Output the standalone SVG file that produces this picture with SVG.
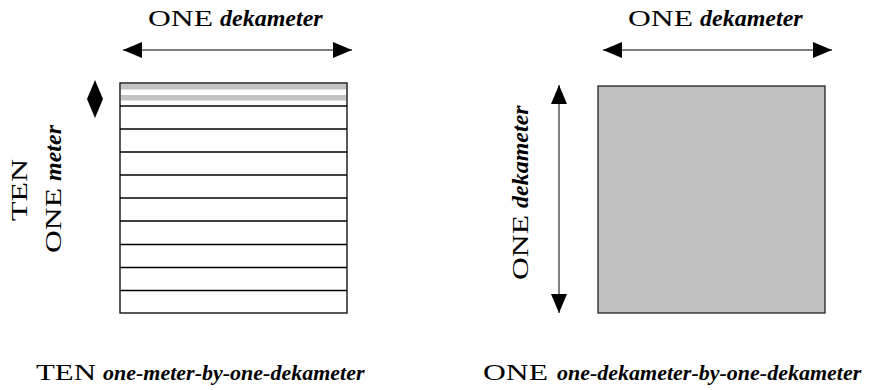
<svg xmlns="http://www.w3.org/2000/svg" width="895" height="390" viewBox="0 0 895 390">
  <style>
    text { font-family: "Liberation Serif", "Times New Roman", serif; font-size: 24px; fill: #000; }
    .em { font-style: italic; font-weight: bold; }
    .sub { font-size: 22px; }
    .dim { stroke: #000; stroke-width: 1.2; fill: none; marker-start: url(#head); marker-end: url(#head); }
    .dim-grey { stroke: #555; stroke-width: 1.5; fill: none; marker-start: url(#head); marker-end: url(#head); }
    .strip { fill: #fff; stroke: #000; stroke-width: 1.3; }
    .band { fill: #c3c3c3; }
  </style>
  <defs>
    <marker id="head" viewBox="0 0 19 16" refX="19" refY="8" markerWidth="19" markerHeight="16" markerUnits="userSpaceOnUse" orient="auto-start-reverse">
      <path d="M0,0 L19,8 L0,16 Z" fill="#000"/>
    </marker>
  </defs>

  <!-- dimension arrows -->
  <g id="connectors">
    <line class="dim" x1="123" y1="50" x2="352" y2="50"/>
    <line class="dim" x1="603" y1="50" x2="832" y2="50"/>
    <line class="dim-grey" x1="559" y1="85" x2="559" y2="313"/>
    <polygon points="95,80 103,99 95,118 87,99" fill="#000"/>
  </g>

  <!-- ten strips, each one meter by one dekameter -->
  <g id="strips">
    <rect class="strip" x="120" y="83" width="227" height="230"/>
    <rect class="band" x="121" y="84" width="225" height="5.5"/>
    <rect class="band" x="121" y="95" width="225" height="5.5"/>
    <g stroke="#000" stroke-width="1.3">
      <line x1="120" y1="106" x2="347" y2="106"/>
      <line x1="120" y1="129" x2="347" y2="129"/>
      <line x1="120" y1="152" x2="347" y2="152"/>
      <line x1="120" y1="175" x2="347" y2="175"/>
      <line x1="120" y1="198" x2="347" y2="198"/>
      <line x1="120" y1="221" x2="347" y2="221"/>
      <line x1="120" y1="244.5" x2="347" y2="244.5"/>
      <line x1="120" y1="267.5" x2="347" y2="267.5"/>
      <line x1="120" y1="290.5" x2="347" y2="290.5"/>
    </g>
  </g>

  <!-- one square dekameter -->
  <g id="square">
    <rect x="598" y="86" width="227" height="227" fill="#c0c0c0" stroke="#222" stroke-width="1.3"/>
  </g>

  <!-- labels -->
  <g id="label-top-left">
    <text x="148" y="26" textLength="65" lengthAdjust="spacingAndGlyphs">ONE</text>
    <text class="em" x="220" y="26">dekameter</text>
  </g>
  <g id="label-top-right">
    <text x="628" y="26" textLength="65" lengthAdjust="spacingAndGlyphs">ONE</text>
    <text class="em" x="700" y="26">dekameter</text>
  </g>
  <g id="label-left-side">
    <text transform="translate(27,221) rotate(-90)" textLength="62" lengthAdjust="spacingAndGlyphs">TEN</text>
    <g transform="translate(61,253) rotate(-90)">
      <text x="0" y="0" textLength="65" lengthAdjust="spacingAndGlyphs">ONE</text>
      <text class="em" x="72" y="0">meter</text>
    </g>
  </g>
  <g id="label-right-side">
    <g transform="translate(528,280) rotate(-90)">
      <text x="0" y="0" textLength="65" lengthAdjust="spacingAndGlyphs">ONE</text>
      <text class="em" x="72" y="0">dekameter</text>
    </g>
  </g>
  <g id="label-bottom-left">
    <text x="36" y="380" textLength="60" lengthAdjust="spacingAndGlyphs">TEN</text>
    <text class="em sub" x="103" y="380">one-meter-by-one-dekameter</text>
  </g>
  <g id="label-bottom-right">
    <text x="483" y="380" textLength="65" lengthAdjust="spacingAndGlyphs">ONE</text>
    <text class="em sub" x="557" y="380">one-dekameter-by-one-dekameter</text>
  </g>
</svg>
